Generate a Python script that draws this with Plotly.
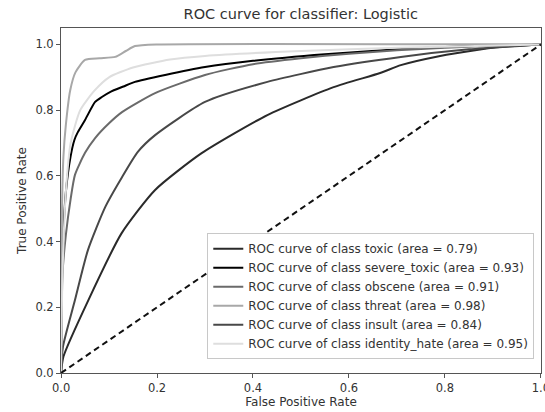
import plotly.graph_objects as go

# ROC curves
toxic_fpr = [0, 0.005, 0.057, 0.126, 0.196, 0.293, 0.43, 0.568, 0.665, 0.708, 0.78, 0.9, 1.0]
toxic_tpr = [0, 0.05, 0.222, 0.425, 0.557, 0.669, 0.785, 0.87, 0.913, 0.937, 0.962, 0.99, 1.0]

severe_fpr = [0, 0.003, 0.01, 0.02, 0.028, 0.035, 0.05, 0.071, 0.085, 0.102, 0.13, 0.154, 0.217, 0.30, 0.4, 0.55, 0.7, 0.85, 1.0]
severe_tpr = [0, 0.35, 0.55, 0.66, 0.71, 0.733, 0.77, 0.825, 0.84, 0.855, 0.872, 0.886, 0.907, 0.931, 0.95, 0.97, 0.985, 0.995, 1.0]

obscene_fpr = [0, 0.003, 0.01, 0.02, 0.029, 0.05, 0.071, 0.1, 0.127, 0.196, 0.30, 0.4, 0.5, 0.6, 0.7, 0.8, 0.9, 1.0]
obscene_tpr = [0, 0.30, 0.42, 0.53, 0.603, 0.67, 0.715, 0.76, 0.794, 0.852, 0.907, 0.94, 0.958, 0.972, 0.982, 0.99, 0.996, 1.0]

threat_fpr = [0, 0.002, 0.005, 0.01, 0.019, 0.03, 0.05, 0.08, 0.113, 0.135, 0.154, 0.2, 1.0]
threat_tpr = [0, 0.5, 0.66, 0.755, 0.86, 0.915, 0.953, 0.958, 0.962, 0.98, 0.995, 1.0, 1.0]

insult_fpr = [0, 0.004, 0.029, 0.056, 0.092, 0.127, 0.16, 0.196, 0.30, 0.43, 0.568, 0.708, 0.85, 1.0]
insult_tpr = [0, 0.08, 0.222, 0.374, 0.505, 0.596, 0.673, 0.724, 0.825, 0.886, 0.931, 0.962, 0.985, 1.0]

ident_fpr = [0, 0.003, 0.01, 0.02, 0.04, 0.07, 0.1, 0.15, 0.227, 0.3, 0.5, 0.7, 1.0]
ident_tpr = [0, 0.3, 0.55, 0.7, 0.8, 0.86, 0.9, 0.93, 0.954, 0.965, 0.98, 0.99, 1.0]

classes = ["toxic", "severe_toxic", "obscene", "threat", "insult", "identity_hate"]
areas = ["0.79", "0.93", "0.91", "0.98", "0.84", "0.95"]
fprs = [toxic_fpr, severe_fpr, obscene_fpr, threat_fpr, insult_fpr, ident_fpr]
tprs = [toxic_tpr, severe_tpr, obscene_tpr, threat_tpr, insult_tpr, ident_tpr]
colors = ["#2a2a2a", "#000000", "#6a6a6a", "#a8a8a8", "#484848", "#dedede"]

diag = [0, 1]
ticks = [0, 0.2, 0.4, 0.6, 0.8, 1.0]
tick_labels = ["0.0", "0.2", "0.4", "0.6", "0.8", "1.0"]

fig = go.Figure()
for name, area, fx, ty, c in zip(classes, areas, fprs, tprs, colors):
    fig.add_trace(go.Scatter(
        x=fx, y=ty, mode="lines",
        line=dict(color=c, width=2, shape="spline", smoothing=0.6),
        name=f"ROC curve of class {name} (area = {area})",
    ))
fig.add_trace(go.Scatter(
    x=diag, y=diag, mode="lines",
    line=dict(color="#111111", width=2, dash="6px,4px"),
    showlegend=False,
))

font = "DejaVu Sans, sans-serif"
fig.update_layout(
    width=545, height=412,
    margin=dict(l=61, r=4, t=28, b=39),
    paper_bgcolor="white", plot_bgcolor="white",
    font=dict(family=font, color="#333", size=11.5),
    title=dict(text="ROC curve for classifier: Logistic", x=0.552, xanchor="center",
               y=0.965, yanchor="middle", font=dict(size=14.5, color="#333")),
    showlegend=True,
    legend=dict(x=0.986, y=0.04, xanchor="right", yanchor="bottom",
                bordercolor="#c8c8c8", borderwidth=1, bgcolor="white",
                font=dict(size=12, color="#333"), tracegroupgap=0,
                itemwidth=30),
    xaxis=dict(range=[-0.0001, 1.0002], tickvals=ticks, ticktext=tick_labels,
               showgrid=False, zeroline=False, showline=True, mirror=True,
               linecolor="#555", linewidth=1, ticks="outside", ticklen=4,
               tickcolor="#555", automargin=False, ticklabeloverflow="allow",
               title=dict(text="False Positive Rate", font=dict(size=12), standoff=2)),
    yaxis=dict(range=[0, 1.05], tickvals=ticks, ticktext=tick_labels,
               showgrid=False, zeroline=False, showline=True, mirror=True,
               linecolor="#555", linewidth=1, ticks="outside", ticklen=4,
               tickcolor="#555", automargin=False,
               title=dict(text="True Positive Rate", font=dict(size=12), standoff=6)),
)

fig.write_html("out.html", config={"displayModeBar": False},
               post_script="document.body.style.margin='0';")
